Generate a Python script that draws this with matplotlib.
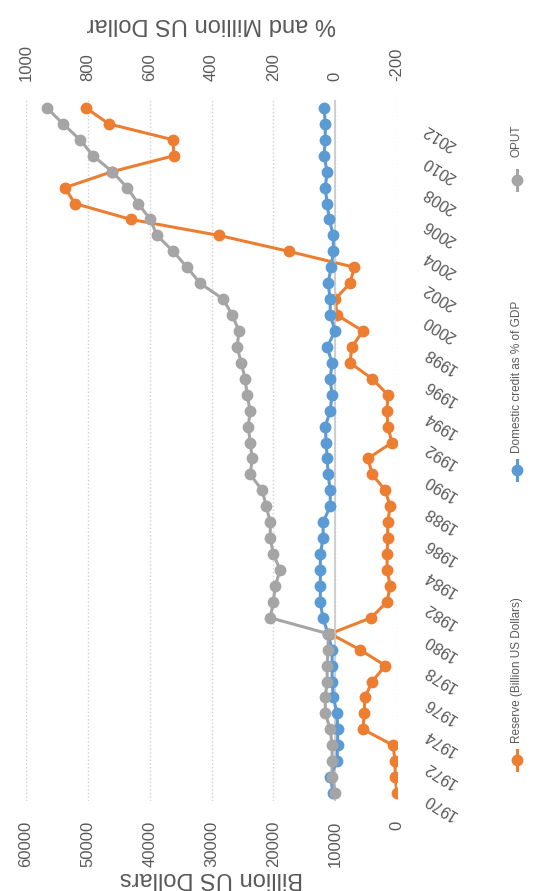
import numpy as np
import matplotlib
matplotlib.use("Agg")
import matplotlib.pyplot as plt
from matplotlib.lines import Line2D

plt.rcParams['font.family'] = ['Liberation Sans', 'DejaVu Sans']

years = list(range(1970, 2014))
reserve = [0, 300, 300, 650, 5500, 5300, 5200, 4000, 1900, 6000,
           10800, 4200, 1600, 1100, 1600, 1600, 1500, 1500, 1100, 1900,
           4000, 4700, 800, 1500, 1600, 1500, 4000, 7600, 7300, 5500,
           9700, 10000, 7600, 6900, 17500, 28800, 43000, 52100, 53700, 46100,
           36100, 36200, 46600, 50300]
credit_pct = [6, 16, -6, -8, -8, -6, 6, 10, 10, 10,
              23, 40, 48, 48, 48, 48, 39, 39, 16, 16,
              23, 26, 29, 32, 16, 10, 16, 10, 26, 0,
              16, 16, 23, 13, 6, 6, 19, 26, 32, 26,
              36, 32, 32, 36]
oput = [0, 10, 10, 10, 16, 32, 32, 26, 26, 23,
        23, 210, 200, 194, 178, 200, 210, 210, 223, 236,
        275, 268, 275, 281, 275, 285, 291, 304, 317, 311,
        333, 362, 437, 479, 524, 576, 598, 637, 673, 721,
        783, 825, 880, 932]

billion_ticks = list(range(0, 60001, 10000))
pct_ticks = list(range(-200, 1001, 200))
year_labels = [str(y) for y in years[::2]]

series_names = ['Reserve (Billion US Dollars)', 'Domestic credit as % of GDP', 'OPUT']
colors = ['#ED7D31', '#5B9BD5', '#A5A5A5']
text_color = '#595959'

W, H = 533, 891
fig = plt.figure(figsize=(W / 100, H / 100), dpi=100)

# plot area in pixel terms: x 26..397, y 100..801
ax = fig.add_axes([26 / W, 1 - 801 / H, (397 - 26) / W, (801 - 100) / H])
ax2 = ax.twiny()

ax.plot(reserve, years, color=colors[0], lw=2.2, marker='o', ms=7.5, zorder=3)
ax2.plot(credit_pct, years, color=colors[1], lw=2.2, marker='o', ms=7.5, zorder=3)
ax2.plot(oput, years, color=colors[2], lw=2.2, marker='o', ms=7.5, zorder=4)

ax.set_xlim(60000, 0)
ax2.set_xlim(1000, -200)
ax.set_ylim(1969.5, 2013.5)

ax.set_xticks(billion_ticks)
ax.set_xticklabels([str(t) for t in billion_ticks])
ax2.set_xticks(pct_ticks)
ax2.set_xticklabels([str(t) for t in pct_ticks])
ax.grid(axis='x', ls=':', color='#cfcfcf', lw=1.0)
ax2.axvline(0, color='#c8c8c8', lw=1.2, zorder=2)

for a in (ax, ax2):
    for s in a.spines.values():
        s.set_visible(False)
    a.tick_params(axis='x', length=0, labelsize=12, labelcolor=text_color,
                  labelrotation=90, pad=14)

ax.set_yticks(years[::2])
ax.set_yticklabels(year_labels)
ax.yaxis.tick_right()
ax.tick_params(axis='y', length=0, labelsize=11.5, labelcolor=text_color, pad=22)
for lbl in ax.get_yticklabels():
    lbl.set_rotation(148)
    lbl.set_rotation_mode('anchor')
    lbl.set_ha('right')
    lbl.set_va('baseline')

ax.set_xlabel('Billion US Dollars', rotation=180, fontsize=17, color=text_color,
              va='center')
ax.xaxis.set_label_coords(0.5, (801 - 878) / 701)
ax2.set_xlabel('% and Million US Dollar', rotation=180, fontsize=17, color=text_color,
               va='center')
ax2.xaxis.set_label_coords(0.5, (801 - 24) / 701)

# legend stacked vertically on the right, text reading upward
leg_x = 517 / W
marker_y = [760, 470, 180]
text_y = [743, 453, 157]
for name, col, my, ty in zip(series_names, colors, marker_y, text_y):
    fig.add_artist(Line2D([leg_x, leg_x], [1 - (my + 10) / H, 1 - (my - 10) / H],
                          transform=fig.transFigure, color=col, lw=2.2))
    fig.add_artist(Line2D([leg_x], [1 - my / H], transform=fig.transFigure,
                          color=col, marker='o', ms=7.5))
    fig.text(leg_x, 1 - ty / H, name, rotation=90, ha='center', va='bottom',
             fontsize=8.5, color=text_color)

fig.savefig('out.png', dpi=100)
